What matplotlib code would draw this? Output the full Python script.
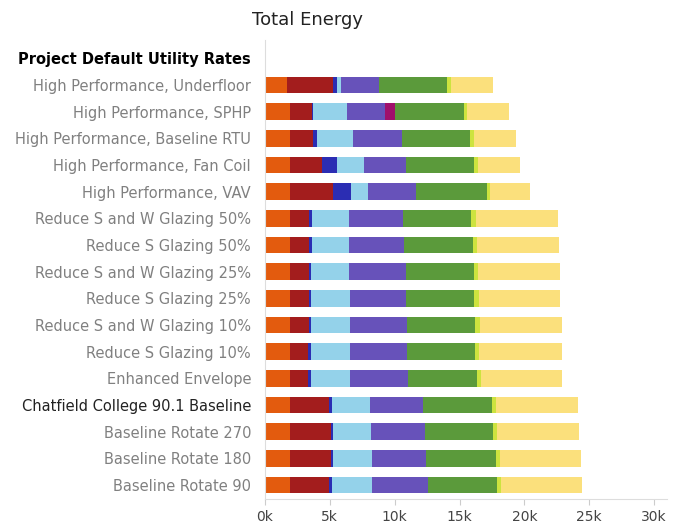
import matplotlib
matplotlib.use("Agg")
import matplotlib.pyplot as plt
import numpy as np

# categories, top to bottom
categories = [
    "High Performance, Underfloor",
    "High Performance, SPHP",
    "High Performance, Baseline RTU",
    "High Performance, Fan Coil",
    "High Performance, VAV",
    "Reduce S and W Glazing 50%",
    "Reduce S Glazing 50%",
    "Reduce S and W Glazing 25%",
    "Reduce S Glazing 25%",
    "Reduce S and W Glazing 10%",
    "Reduce S Glazing 10%",
    "Enhanced Envelope",
    "Chatfield College 90.1 Baseline",
    "Baseline Rotate 270",
    "Baseline Rotate 180",
    "Baseline Rotate 90",
]
header = "Project Default Utility Rates"

# segment values, left to right within each bar
seg_orange = [1720, 1930, 1930, 1930, 1930, 1930, 1930, 1930, 1930, 1930, 1930, 1930, 1930, 1930, 1930, 1930]
seg_darkred = [3520, 1680, 1810, 2450, 3350, 1500, 1500, 1500, 1500, 1500, 1420, 1420, 3020, 3150, 3150, 2970]
seg_blue = [310, 130, 260, 1210, 1340, 180, 180, 100, 100, 100, 180, 180, 210, 200, 200, 260]
seg_lightblue = [330, 2580, 2750, 2070, 1320, 2830, 2830, 2910, 2990, 2990, 2990, 2990, 2910, 2890, 2970, 3090]
seg_purple = [2880, 2910, 3820, 3220, 3740, 4210, 4310, 4410, 4330, 4440, 4440, 4540, 4100, 4130, 4200, 4330]
seg_magenta = [0, 820, 0, 0, 0, 0, 0, 0, 0, 0, 0, 0, 0, 0, 0, 0]
seg_green = [5290, 5290, 5230, 5230, 5410, 5260, 5260, 5260, 5260, 5230, 5230, 5260, 5310, 5280, 5340, 5340]
seg_yellowgreen = [310, 260, 310, 310, 260, 330, 360, 350, 390, 360, 310, 310, 310, 280, 310, 310]
seg_yellow = [3220, 3220, 3220, 3250, 3090, 6320, 6270, 6300, 6230, 6320, 6370, 6240, 6310, 6370, 6260, 6180]

series = [
    (seg_orange, "#E35B0E"),
    (seg_darkred, "#A31D1D"),
    (seg_blue, "#2B2DB3"),
    (seg_lightblue, "#94D2EA"),
    (seg_purple, "#6752BA"),
    (seg_magenta, "#A0106B"),
    (seg_green, "#5B9A3B"),
    (seg_yellowgreen, "#CDE33F"),
    (seg_yellow, "#FBE07C"),
]

xticks = [0, 5000, 10000, 15000, 20000, 25000, 30000]
xtick_labels = ["0k", "5k", "10k", "15k", "20k", "25k", "30k"]


def main():
    fig = plt.figure(figsize=(6.79, 5.27), dpi=100)
    ax = fig.add_axes([265 / 679, 28 / 527, 402 / 679, 459 / 527])

    y = np.arange(len(categories))
    left = np.zeros(len(categories))
    for values, color in series:
        ax.barh(y, values, left=left, height=0.62, color=color, linewidth=0)
        left += np.array(values)

    ax.set_xlim(0, 31000)
    ax.set_ylim(15.525, -1.69)

    ax.set_yticks([-1] + list(y))
    ax.set_yticklabels([header] + categories)
    for i, lbl in enumerate(ax.get_yticklabels()):
        lbl.set_fontsize(10.5)
        if i == 0:
            lbl.set_fontweight("bold")
            lbl.set_color("black")
        elif categories[i - 1] == "Chatfield College 90.1 Baseline":
            lbl.set_color("#222222")
        else:
            lbl.set_color("#808080")
    ax.tick_params(axis="y", length=0, pad=10)

    ax.set_xticks(xticks)
    ax.set_xticklabels(xtick_labels)
    ax.tick_params(axis="x", length=4, color="#cccccc", labelsize=10,
                   labelcolor="#444444", pad=4)

    for side in ["top", "right"]:
        ax.spines[side].set_visible(False)
    ax.spines["left"].set_color("#dddddd")
    ax.spines["bottom"].set_color("#dddddd")

    fig.text(308 / 679, 1 - 20 / 527, "Total Energy", ha="center", va="center",
             fontsize=13, color="#222222")

    fig.savefig("out.png", dpi=100)


if __name__ == "__main__":
    main()
